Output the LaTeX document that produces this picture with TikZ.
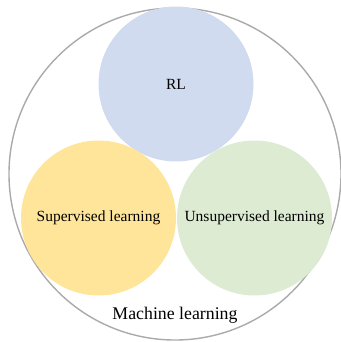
\documentclass[tikz,border=0pt]{standalone}
\usepackage{fontspec}
\setmainfont{Liberation Serif}
\usepackage{xcolor}
\definecolor{rlblue}{RGB}{208,219,240}
\definecolor{supyellow}{RGB}{255,229,153}
\definecolor{unsgreen}{RGB}{220,235,210}
\definecolor{rimgray}{RGB}{170,170,170}
\tikzset{
  area/.style={circle,inner sep=0pt,minimum size=155pt,font=\fontsize{15.5}{18}\selectfont},
  rim/.style={circle,draw=rimgray,line width=1.4pt,inner sep=0pt,minimum size=332pt}
}

\begin{document}
\begin{tikzpicture}[x=1pt,y=1pt]
\useasboundingbox (0,0) rectangle (340,-342);
%\draw[red] (0,0) rectangle (340,-342);

\node[rim] (ml) at (175,-174) {};

\node[area,fill=rlblue] (rl) at (176,-84) {RL};
\node[area,fill=supyellow] (sup) at (98.5,-218) {Supervised learning};
\node[area,fill=unsgreen] (uns) at (254.5,-218) {Unsupervised learning};

\node[font=\fontsize{17.8}{20}\selectfont] (mltext) at (175,-315) {Machine learning};
\end{tikzpicture}
\end{document}
